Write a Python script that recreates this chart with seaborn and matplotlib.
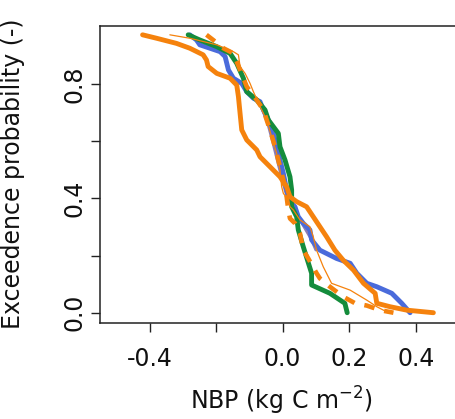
import numpy as np
import pandas as pd
import seaborn as sns
import matplotlib
matplotlib.use("Agg")
import matplotlib.pyplot as plt

## exceedence curves (x = NBP, y = exceedence probability)
orange_x = [-0.421, -0.379, -0.319, -0.279, -0.239, -0.229, -0.224, -0.198, -0.158, -0.138, -0.133, -0.128,
            -0.123, -0.108, -0.078, -0.068, -0.038, -0.008, 0.012, 0.022, 0.042, 0.072, 0.092, 0.112,
            0.132, 0.157, 0.182, 0.213, 0.243, 0.278, 0.283, 0.323, 0.373, 0.453]
orange_y = [0.973, 0.961, 0.943, 0.926, 0.903, 0.885, 0.862, 0.838, 0.821, 0.797, 0.757, 0.698,
            0.640, 0.605, 0.570, 0.546, 0.511, 0.476, 0.441, 0.406, 0.389, 0.371, 0.336, 0.301,
            0.266, 0.219, 0.184, 0.149, 0.103, 0.068, 0.033, 0.021, 0.009, 0.000]

blue_x = [-0.279, -0.259, -0.249, -0.188, -0.173, -0.163, -0.148, -0.123, -0.108, -0.088, -0.068, -0.058,
          -0.043, -0.028, -0.013, 0.002, 0.012, 0.022, 0.037, 0.047, 0.062, 0.082, 0.087, 0.112,
          0.162, 0.203, 0.223, 0.253, 0.283, 0.328, 0.358, 0.383]
blue_y = [0.973, 0.955, 0.938, 0.914, 0.897, 0.850, 0.821, 0.803, 0.774, 0.751, 0.739, 0.710,
          0.675, 0.628, 0.558, 0.488, 0.430, 0.389, 0.371, 0.336, 0.313, 0.290, 0.255, 0.219,
          0.190, 0.173, 0.138, 0.103, 0.091, 0.068, 0.033, 0.000]

green_x = [-0.284, -0.249, -0.199, -0.158, -0.138, -0.118, -0.108, -0.078, -0.053, -0.043, -0.013, -0.008,
           0.007, 0.022, 0.027, 0.027, 0.042, 0.047, 0.062, 0.087, 0.087, 0.142, 0.187, 0.194]
green_y = [0.973, 0.955, 0.932, 0.908, 0.873, 0.821, 0.774, 0.745, 0.710, 0.675, 0.628, 0.581,
           0.535, 0.476, 0.430, 0.371, 0.336, 0.290, 0.231, 0.138, 0.097, 0.068, 0.033, 0.000]

thin_x = [-0.339, -0.279, -0.198, -0.148, -0.133, -0.128, -0.113, -0.098, -0.088, -0.068, -0.048, -0.033,
          -0.018, -0.008, -0.003, 0.002, 0.017, 0.022, 0.032, 0.052, 0.082, 0.092, 0.102, 0.122,
          0.147, 0.203, 0.253, 0.283, 0.318]
thin_y = [0.973, 0.961, 0.938, 0.914, 0.903, 0.862, 0.838, 0.803, 0.774, 0.722, 0.675, 0.616,
          0.558, 0.500, 0.441, 0.418, 0.395, 0.371, 0.360, 0.325, 0.301, 0.266, 0.219, 0.161,
          0.103, 0.079, 0.044, 0.021, 0.000]

dashed_x = [-0.229, -0.209, -0.178, -0.148, -0.128, -0.108, -0.078, -0.058, -0.038, -0.023, -0.008, 0.002,
            0.012, 0.017, 0.022, 0.037, 0.052, 0.062, 0.077, 0.102, 0.112, 0.142, 0.182, 0.218,
            0.253, 0.293, 0.333]
dashed_y = [0.973, 0.955, 0.926, 0.908, 0.850, 0.792, 0.745, 0.710, 0.640, 0.581, 0.511, 0.465,
            0.406, 0.360, 0.330, 0.313, 0.278, 0.219, 0.190, 0.138, 0.120, 0.091, 0.056, 0.033,
            0.025, 0.009, 0.000]

purple_x = [-0.065, -0.045, -0.03, -0.015, -0.002, 0.01, 0.03, 0.06, 0.085, 0.1]
purple_y = [0.725, 0.665, 0.60, 0.53, 0.47, 0.42, 0.37, 0.31, 0.26, 0.22]

x_ticks = [-0.4, -0.2, 0.0, 0.2, 0.4]
x_ticklabels = ["-0.4", "", "0.0", "0.2", "0.4"]
y_ticks = [0.0, 0.2, 0.4, 0.6, 0.8]
y_ticklabels = ["0.0", "", "0.4", "", "0.8"]

c_orange = "#F5820D"
c_blue = "#4A6BDB"
c_green = "#148C3C"
c_purple = "#8C7CB4"

sns.set_style("ticks")
plt.rcParams["font.family"] = ["DejaVu Sans"]

fig = plt.figure(figsize=(4.56, 4.19), dpi=100)
ax = fig.add_axes([0.2193, 0.2291, 0.7982, 0.7096])

##draw the curves, back to front
sns.lineplot(x=purple_x, y=purple_y, ax=ax, sort=False, estimator=None, color=c_purple, lw=2.2)
sns.lineplot(x=blue_x, y=blue_y, ax=ax, sort=False, estimator=None, color=c_blue, lw=3.5)
sns.lineplot(x=green_x, y=green_y, ax=ax, sort=False, estimator=None, color=c_green, lw=3.5)
sns.lineplot(x=thin_x, y=thin_y, ax=ax, sort=False, estimator=None, color=c_orange, lw=0.9)
sns.lineplot(x=dashed_x, y=dashed_y, ax=ax, sort=False, estimator=None, color=c_orange, lw=3.3,
             linestyle=(0, (2.3, 2.2)))
sns.lineplot(x=orange_x, y=orange_y, ax=ax, sort=False, estimator=None, color=c_orange, lw=3.5)

ax.set_xlim(-0.549, 0.545)
ax.set_ylim(-0.036, 1.005)
ax.set_xticks(x_ticks)
ax.set_xticklabels(x_ticklabels)
ax.set_yticks(y_ticks)
ax.set_yticklabels(y_ticklabels, rotation=90, va="center")

for s in ax.spines.values():
    s.set_linewidth(1.1)
    s.set_color("#222222")

ax.tick_params(axis="x", length=6.5, width=1.0, pad=11, labelsize=17, colors="#222222", labelcolor="#111111")
ax.tick_params(axis="y", length=6.5, width=1.0, pad=3, labelsize=17, colors="#222222", labelcolor="#111111")

ax.set_xlabel("")
ax.set_ylabel("")
fig.text(281 / 456, 1 - 401 / 419, "NBP (kg C m$^{-2}$)", ha="center", va="center", fontsize=17, color="#111111")
fig.text(13 / 456, 1 - 174 / 419, "Exceedence probability (-)", ha="center", va="center",
         rotation=90, fontsize=17, color="#111111")

fig.savefig("out.png", dpi=100)
